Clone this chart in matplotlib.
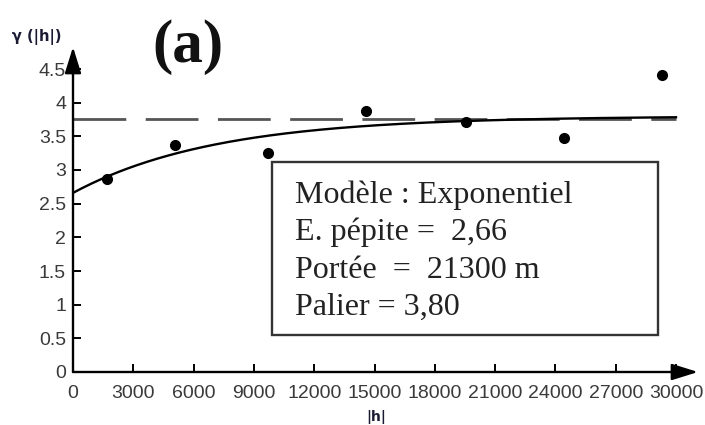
import numpy as np
import matplotlib
matplotlib.use("Agg")
import matplotlib.pyplot as plt
from matplotlib.patches import Rectangle

lag = [1680, 5075, 9715, 14560, 19540, 24440, 29290]
gamma = [2.86, 3.37, 3.25, 3.87, 3.72, 3.47, 4.41]

# Model parameters shown in the chart
nugget = 2.66
sill = 3.80
portee = 21300
variance_line = 3.76

xticks = [0, 3000, 6000, 9000, 12000, 15000, 18000, 21000, 24000, 27000, 30000]
yticks = [0, 0.5, 1, 1.5, 2, 2.5, 3, 3.5, 4, 4.5]
ytick_labels = ["0", "0.5", "1", "1.5", "2", "2.5", "3", "3.5", "4", "4.5"]

box_lines = ["Modèle : Exponentiel", "E. pépite =  2,66", "Portée  =  21300 m", "Palier = 3,80"]

W, H = 705, 425
fig = plt.figure(figsize=(W / 100, H / 100), dpi=100)
x0, x1 = 73, 698
y0, y1 = 372, 47
ax = fig.add_axes([x0 / W, (H - y0) / H, (x1 - x0) / W, (y0 - y1) / H])
xmax = 30000 * (x1 - x0) / (676 - 73)
ymax = 4.5 * (y0 - y1) / (372 - 69)
ax.set_xlim(0, xmax)
ax.set_ylim(0, ymax)
for s in ax.spines.values():
    s.set_visible(False)

# axis arrows
arrow_style = "-|>,head_length=1.6,head_width=0.5"
ax.annotate("", xy=(1, 0), xytext=(0, 0), xycoords="axes fraction",
            arrowprops=dict(arrowstyle=arrow_style, lw=1.7, color="black",
                            shrinkA=0, shrinkB=0))
ax.annotate("", xy=(0, 1), xytext=(0, 0), xycoords="axes fraction",
            arrowprops=dict(arrowstyle=arrow_style, lw=1.7, color="black",
                            shrinkA=0, shrinkB=0))

ax.set_xticks(xticks)
ax.set_xticklabels([str(t) for t in xticks])
ax.set_yticks(yticks)
ax.set_yticklabels(ytick_labels)
ax.tick_params(axis="both", direction="in", length=6, width=1.4, color="black",
               labelcolor="#3a3a3a", labelsize=14)
ax.tick_params(axis="x", pad=9)
ax.tick_params(axis="y", pad=5)
for lab in ax.get_xticklabels() + ax.get_yticklabels():
    lab.set_fontfamily("Liberation Sans")

# dashed variance line
ax.plot([0, 30000], [variance_line, variance_line], color="#555555", lw=2.0,
        dashes=(19, 7))

# exponential model
h = np.linspace(0, 30000, 400)
model = nugget + (sill - nugget) * (1 - np.exp(-3 * h / portee))
ax.plot(h, model, color="black", lw=1.7)

# experimental points
ax.plot(lag, gamma, "o", color="black", ms=7, clip_on=False)

# text box
bx0, bx1, by0, by1 = 272, 658, 162, 335
rect = Rectangle((bx0 / W, 1 - by1 / H), (bx1 - bx0) / W, (by1 - by0) / H,
                 transform=fig.transFigure, fill=True, facecolor="white",
                 edgecolor="#333333", lw=1.7, zorder=5)
fig.patches.append(rect)
baselines = [203, 240, 278, 315]
for txt, b in zip(box_lines, baselines):
    fig.text(295 / W, 1 - b / H, txt, family="Liberation Serif", fontsize=23,
             color="#222222", va="baseline", ha="left", zorder=6)

# labels
fig.text(37 / W, 1 - 37 / H, "γ (|h|)", fontsize=10.5, fontweight="bold",
         color="#1a1a33", ha="center", va="center", family="DejaVu Sans")
fig.text(376 / W, 1 - 417 / H, "|h|", fontsize=10, fontweight="bold",
         color="#1a1a33", ha="center", va="center", family="DejaVu Sans")
fig.text(188 / W, 1 - 47 / H, "(a)", fontsize=44, fontweight="bold",
         color="#111111", ha="center", va="center", family="Liberation Serif")

fig.savefig("out.png", dpi=100, facecolor="white")
